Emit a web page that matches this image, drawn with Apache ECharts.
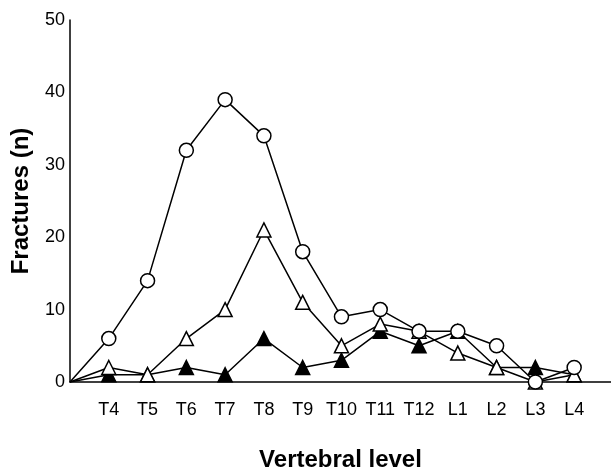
<!DOCTYPE html>
<html>
<head>
<meta charset="utf-8">
<script src="https://cdn.jsdelivr.net/npm/echarts@6/dist/echarts.min.js"></script>
<style>
  html, body { margin: 0; padding: 0; background: #fff; }
  #chart { width: 611px; height: 472px; }
</style>
</head>
<body>
<div id="chart"></div>
<script>
var categories = ["T4", "T5", "T6", "T7", "T8", "T9", "T10", "T11", "T12", "L1", "L2", "L3", "L4"];
var circleValues = [6, 14, 32, 39, 34, 18, 9, 10, 7, 7, 5, 0, 2];
var openTriValues = [2, 1, 6, 10, 21, 11, 5, 8, 7, 4, 2, 0, 1];
var filledTriValues = [1, 1, 2, 1, 6, 2, 3, 7, 5, 7, 2, 2, 1];
var yTicks = [0, 10, 20, 30, 40, 50];

// every line starts at the origin, then one point per vertebral level
function toPoints(values) {
  var pts = [{ value: [0, 0], symbol: "none" }];
  values.forEach(function (v, i) {
    pts.push([i + 1, v]);
  });
  return pts;
}

var chart = echarts.init(document.getElementById("chart"));

function lineSeries(values, symbol, fill, z) {
  return {
    type: "line",
    data: toPoints(values),
    symbol: symbol,
    symbolSize: 14,
    showAllSymbol: true,
    z: z,
    lineStyle: { color: "#000", width: 1.5 },
    itemStyle: { color: fill, borderColor: "#000", borderWidth: 1.5 },
    emphasis: { disabled: true },
  };
}

var option = {
  animation: false,
  textStyle: { fontFamily: "Liberation Sans" },
  grid: { left: 70, top: 20, right: 0, bottom: 90, outerBoundsMode: "none", containLabel: false },
  xAxis: {
    type: "value",
    min: 0,
    max: 13.95,
    interval: 1,
    name: "Vertebral level",
    nameLocation: "middle",
    nameGap: 66,
    nameTextStyle: { fontSize: 24, fontWeight: "bold", color: "#000" },
    axisLine: { lineStyle: { color: "#000", width: 1.5 } },
    axisTick: { show: false },
    splitLine: { show: false },
    axisLabel: {
      margin: 19,
      fontSize: 18,
      color: "#000",
      formatter: function (v) {
        return categories[v - 1] || "";
      },
    },
  },
  yAxis: {
    type: "value",
    min: yTicks[0],
    max: yTicks[yTicks.length - 1],
    interval: 10,
    name: "Fractures (n)",
    nameLocation: "middle",
    nameGap: 37,
    nameTextStyle: { fontSize: 24, fontWeight: "bold", color: "#000" },
    axisLine: { show: true, lineStyle: { color: "#000", width: 1.5 } },
    axisTick: { show: false },
    splitLine: { show: false },
    axisLabel: { margin: 5, fontSize: 18, color: "#000" },
  },
  series: [
    lineSeries(filledTriValues, "triangle", "#000", 2),
    lineSeries(openTriValues, "triangle", "#fff", 3),
    lineSeries(circleValues, "circle", "#fff", 4),
  ],
};

chart.setOption(option);
</script>
</body>
</html>
